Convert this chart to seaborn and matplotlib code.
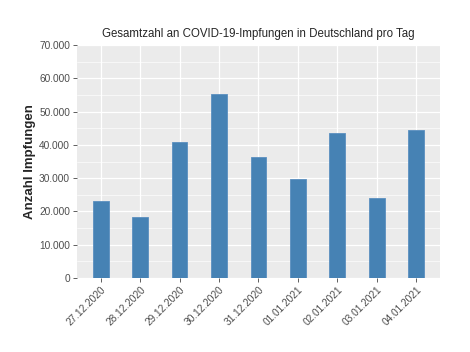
import pandas as pd
import matplotlib
matplotlib.use("Agg")
import matplotlib.pyplot as plt
import seaborn as sns
from matplotlib.ticker import FuncFormatter, MultipleLocator

# Daily vaccinations
dates = ["27.12.2020", "28.12.2020", "29.12.2020", "30.12.2020", "31.12.2020",
         "01.01.2021", "02.01.2021", "03.01.2021", "04.01.2021"]
impfungen = [23200, 18200, 40900, 55200, 36400, 29900, 43600, 24100, 44500]

df = pd.DataFrame({"datum": dates, "impfungen": impfungen})

sns.set_style("darkgrid", {"axes.facecolor": "#EBEBEB", "grid.color": "white"})
plt.rcParams["font.family"] = ["Liberation Sans", "DejaVu Sans"]

fig = plt.figure(figsize=(4.7, 3.52), dpi=100)
ax = fig.add_axes([0.1638, 0.2102, 0.7722, 0.6618])

sns.barplot(data=df, x="datum", y="impfungen", color="#4682B4", width=0.4,
            saturation=1, edgecolor="#5A8FC0", linewidth=0.6, ax=ax, zorder=3)

ax.set_xlim(-0.6, 8.6)
ax.set_ylim(0, 70000)
ax.yaxis.set_major_locator(MultipleLocator(10000))
ax.yaxis.set_minor_locator(MultipleLocator(5000))
ax.yaxis.set_major_formatter(FuncFormatter(lambda v, p: f"{int(v):,}".replace(",", ".")))
ax.grid(True, which="major", color="white", linewidth=0.9)
ax.grid(True, which="minor", axis="y", color="white", linewidth=0.45)
ax.set_axisbelow(True)
for s in ax.spines.values():
    s.set_visible(False)

ax.tick_params(axis="both", which="major", length=3, width=0.6, color="#444444",
               labelsize=7.3, labelcolor="#4D4D4D", pad=2, left=True, bottom=True)
ax.tick_params(axis="y", which="minor", length=0)
plt.setp(ax.get_xticklabels(), rotation=45, ha="right", rotation_mode="anchor")

ax.set_xlabel("")
ax.set_ylabel("Anzahl Impfungen", fontsize=9.5, fontweight="bold", labelpad=2)
ax.set_title("Gesamtzahl an COVID-19-Impfungen in Deutschland pro Tag",
             fontsize=8.3, pad=6)

fig.savefig("out.png", dpi=100)
